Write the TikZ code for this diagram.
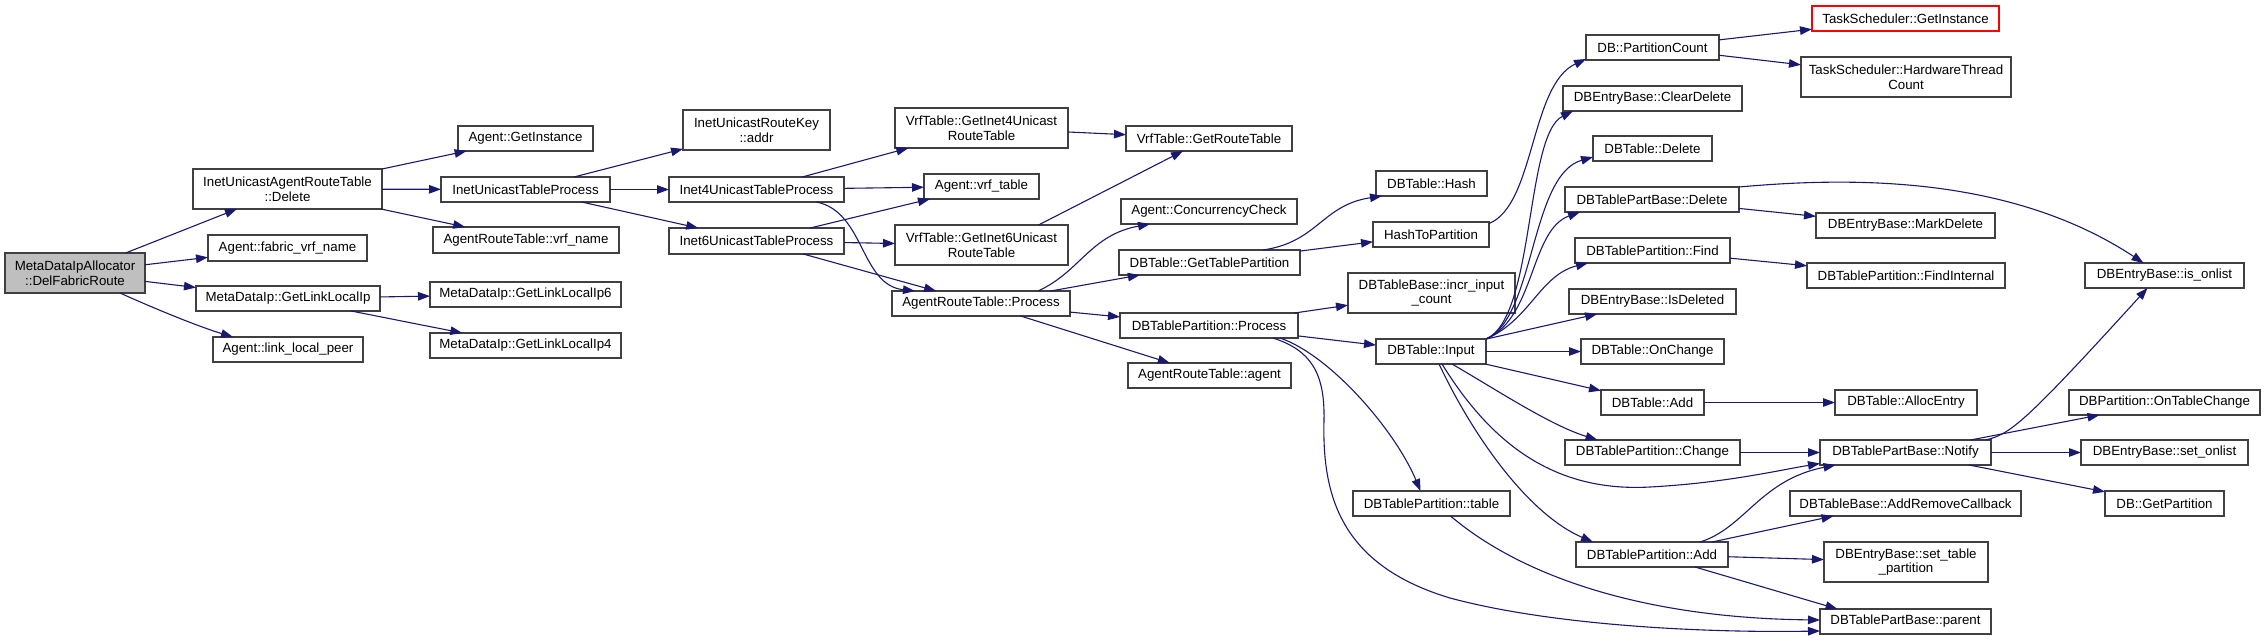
\documentclass[tikz,border=0pt]{standalone}
\usepackage{fontspec}
\setmainfont{Liberation Sans}
\usetikzlibrary{arrows.meta}
\definecolor{edgecol}{HTML}{191970}
\definecolor{rootfill}{HTML}{BFBFBF}
\newcommand\nd[7]{\node[box,#2,minimum width={(#5-#3)*1pt},minimum height={(#6-#4)*1pt}] (#1) at ({(#3+#5)/2},{(#4+#6)/2}) {#7};}
\tikzset{
  box/.style={draw=black!75,line width=1.2pt,fill=white,rectangle,inner sep=0pt,outer sep=0pt,align=center,font=\fontsize{13.3}{14.5}\selectfont},
  rootbox/.style={fill=rootfill},
  redbox/.style={draw=red},
  plain/.style={},
  edge/.style={draw=edgecol,line width=1.1pt,-{Triangle[length=12pt,width=8.5pt]}}
}
\begin{document}
\begin{tikzpicture}[x=1pt,y=-1pt]
\useasboundingbox (0,0) rectangle (2265,640);
% nodes
\nd{dfr}{rootbox}{5}{253}{145}{293}{MetaDataIpAllocator\\::DelFabricRoute}
\nd{iuartd}{plain}{193}{169}{382}{209}{InetUnicastAgentRouteTable\\::Delete}
\nd{fvn}{plain}{208}{235}{367}{261}{Agent::fabric\_vrf\_name}
\nd{glli}{plain}{196}{286}{380}{311}{MetaDataIp::GetLinkLocalIp}
\nd{llp}{plain}{213}{337}{363}{362}{Agent::link\_local\_peer}
\nd{agi}{plain}{458}{126}{593}{151}{Agent::GetInstance}
\nd{iutp}{plain}{441}{177}{610}{202}{InetUnicastTableProcess}
\nd{artvn}{plain}{433}{227}{619}{253}{AgentRouteTable::vrf\_name}
\nd{ip6}{plain}{430}{282}{621}{307}{MetaDataIp::GetLinkLocalIp6}
\nd{ip4}{plain}{430}{333}{621}{358}{MetaDataIp::GetLinkLocalIp4}
\nd{addr}{plain}{683}{110}{830}{150}{InetUnicastRouteKey\\::addr}
\nd{i4}{plain}{669}{177}{844}{202}{Inet4UnicastTableProcess}
\nd{i6}{plain}{669}{228}{844}{254}{Inet6UnicastTableProcess}
\nd{gi4}{plain}{895}{108}{1068}{148}{VrfTable::GetInet4Unicast\\RouteTable}
\nd{vrft}{plain}{924}{174}{1039}{199}{Agent::vrf\_table}
\nd{gi6}{plain}{895}{225}{1068}{265}{VrfTable::GetInet6Unicast\\RouteTable}
\nd{artp}{plain}{892}{291}{1070}{316}{AgentRouteTable::Process}
\nd{grt}{plain}{1126}{126}{1292}{151}{VrfTable::GetRouteTable}
\nd{conc}{plain}{1121}{199}{1297}{224}{Agent::ConcurrencyCheck}
\nd{gtp}{plain}{1119}{250}{1300}{275}{DBTable::GetTablePartition}
\nd{dbtpp}{plain}{1120}{313}{1298}{338}{DBTablePartition::Process}
\nd{artag}{plain}{1128}{363}{1291}{388}{AgentRouteTable::agent}
\nd{hash}{plain}{1376}{171}{1487}{196}{DBTable::Hash}
\nd{h2p}{plain}{1373}{222}{1489}{247}{HashToPartition}
\nd{incr}{plain}{1348}{273}{1515}{313}{DBTableBase::incr\_input\\\_count}
\nd{input}{plain}{1376}{339}{1486}{364}{DBTable::Input}
\nd{table}{plain}{1353}{491}{1510}{516}{DBTablePartition::table}
\nd{pc}{plain}{1586}{35}{1719}{60}{DB::PartitionCount}
\nd{cd}{plain}{1563}{86}{1742}{111}{DBEntryBase::ClearDelete}
\nd{dbdel}{plain}{1593}{136}{1712}{161}{DBTable::Delete}
\nd{pbdel}{plain}{1565}{187}{1739}{212}{DBTablePartBase::Delete}
\nd{find}{plain}{1575}{238}{1730}{263}{DBTablePartition::Find}
\nd{isdel}{plain}{1569}{289}{1736}{314}{DBEntryBase::IsDeleted}
\nd{onch}{plain}{1581}{339}{1724}{364}{DBTable::OnChange}
\nd{dbadd}{plain}{1601}{390}{1704}{415}{DBTable::Add}
\nd{chg}{plain}{1565}{440}{1740}{465}{DBTablePartition::Change}
\nd{tpadd}{plain}{1576}{542}{1728}{567}{DBTablePartition::Add}
\nd{tsgi}{redbox}{1812}{6}{1999}{31}{TaskScheduler::GetInstance}
\nd{hwtc}{plain}{1801}{57}{2011}{97}{TaskScheduler::HardwareThread\\Count}
\nd{markdel}{plain}{1816}{213}{1995}{238}{DBEntryBase::MarkDelete}
\nd{findint}{plain}{1807}{263}{2005}{288}{DBTablePartition::FindInternal}
\nd{alloc}{plain}{1835}{390}{1977}{415}{DBTable::AllocEntry}
\nd{notify}{plain}{1820}{440}{1991}{465}{DBTablePartBase::Notify}
\nd{arcb}{plain}{1790}{491}{2021}{516}{DBTableBase::AddRemoveCallback}
\nd{stp}{plain}{1824}{542}{1988}{582}{DBEntryBase::set\_table\\\_partition}
\nd{parent}{plain}{1820}{609}{1991}{634}{DBTablePartBase::parent}
\nd{isonlist}{plain}{2085}{263}{2244}{288}{DBEntryBase::is\_onlist}
\nd{otc}{plain}{2069}{390}{2260}{415}{DBPartition::OnTableChange}
\nd{setonlist}{plain}{2081}{440}{2248}{465}{DBEntryBase::set\_onlist}
\nd{getpart}{plain}{2105}{491}{2224}{516}{DB::GetPartition}
% edges
\draw[edge] (dfr) -- (iuartd);
\draw[edge] (dfr) -- (fvn);
\draw[edge] (dfr) -- (glli);
\draw[edge] ([xshift=45pt]dfr.south) .. controls (160,311) and (200,327) .. ([xshift=-55pt]llp.north);
\draw[edge] (iuartd) -- (agi);
\draw[edge] (iuartd) -- (iutp);
\draw[edge] (iuartd) -- (artvn);
\draw[edge] (glli) -- (ip6);
\draw[edge] (glli) -- (ip4);
\draw[edge] (iutp) -- (addr);
\draw[edge] (iutp) -- (i4);
\draw[edge] (iutp) -- (i6);
\draw[edge] (i4) -- (gi4);
\draw[edge] (i4) -- (vrft);
\draw[edge] ([xshift=60pt]i4.south) .. controls (865,212) and (860,285) .. ([xshift=-66pt]artp.north);
\draw[edge] (i6) -- (vrft);
\draw[edge] (i6) -- (gi6);
\draw[edge] (i6) -- (artp);
\draw[edge] (gi4) -- (grt);
\draw[edge] ([xshift=57pt]gi6.north) -- ([xshift=-26pt]grt.south);
\draw[edge] ([xshift=57pt]artp.north) .. controls (1080,272) and (1090,235) .. ([xshift=-59pt]conc.south);
\draw[edge] (artp) -- (gtp);
\draw[edge] (artp) -- (dbtpp);
\draw[edge] (artp) -- (artag);
\draw[edge] ([xshift=53.5pt]gtp.north) .. controls (1318,242) and (1322,205) .. ([xshift=-49.5pt]hash.south);
\draw[edge] (gtp) -- (h2p);
\draw[edge] ([yshift=11pt]h2p.east) .. controls (1535,205) and (1530,85) .. ([yshift=1pt]pc.south west);
\draw[edge] (dbtpp) -- (incr);
\draw[edge] (dbtpp) -- (input);
\draw[edge] ([xshift=71pt]dbtpp.south) .. controls (1330,355) and (1395,430) .. ([xshift=-11pt]table.north);
\draw[edge] ([xshift=64pt]dbtpp.south) .. controls (1310,350) and (1325,372) .. (1324,420) .. controls (1322,495) and (1340,565) .. (1450,598) .. controls (1550,625) and (1700,633) .. ([yshift=-9.5pt]parent.west);
\draw[edge] (pc) -- (tsgi);
\draw[edge] (pc) -- (hwtc);
\draw[edge] (input.north east) .. controls (1535,318) and (1525,135) .. ([xshift=-79.5pt]cd.south);
\draw[edge] (input.north east) .. controls (1535,318) and (1530,175) .. ([yshift=-8.5pt]dbdel.west);
\draw[edge] (input.north east) .. controls (1535,318) and (1530,230) .. ([xshift=-72pt]pbdel.south);
\draw[edge] (input.north east) .. controls (1530,320) and (1540,275) .. ([xshift=-64.5pt]find.south);
\draw[edge] (input) -- (isdel);
\draw[edge] (input) -- (onch);
\draw[edge] (input) -- (dbadd);
\draw[edge] ([xshift=21pt]input.south) .. controls (1500,392) and (1550,425) .. ([xshift=-55pt]chg.north);
\draw[edge] ([xshift=11pt]input.south) .. controls (1495,450) and (1560,492) .. (1650,487) .. controls (1725,483) and (1780,470) .. ([yshift=-11pt]notify.west);
\draw[edge] ([xshift=8pt]input.south) .. controls (1475,440) and (1530,515) .. ([xshift=-59pt]tpadd.north);
\draw[edge] (pbdel.north east) .. controls (1850,177) and (2010,175) .. ([xshift=-21pt]isonlist.north);
\draw[edge] (pbdel) -- (markdel);
\draw[edge] (find) -- (findint);
\draw[edge] (dbadd) -- (alloc);
\draw[edge] (chg) -- (notify);
\draw[edge] ([xshift=48pt]tpadd.north) .. controls (1745,528) and (1760,480) .. ([xshift=-70pt]notify.south);
\draw[edge] ([xshift=60pt]tpadd.north) -- ([xshift=-72pt]arcb.south);
\draw[edge] (tpadd) -- (stp);
\draw[edge] ([xshift=43pt]tpadd.south) -- ([xshift=-68pt]parent.north);
\draw[edge] ([xshift=19pt]table.south) .. controls (1520,575) and (1640,618) .. ([yshift=1.5pt]parent.west);
\draw[edge] ([xshift=80pt]notify.north) .. controls (2010,434) and (2022,426) .. ([xshift=-17pt]isonlist.south);
\draw[edge] ([xshift=65pt]notify.north) -- ([xshift=-65pt]otc.south);
\draw[edge] (notify) -- (setonlist);
\draw[edge] (notify) -- (getpart);
\end{tikzpicture}
\end{document}
